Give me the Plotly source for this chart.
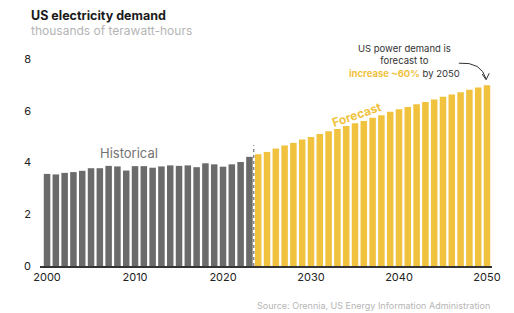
import plotly.graph_objects as go

hist_years = list(range(2000, 2024))
hist_values = [3.56, 3.54, 3.60, 3.63, 3.68, 3.78, 3.78, 3.87, 3.85, 3.69, 3.86, 3.86,
               3.80, 3.85, 3.89, 3.87, 3.89, 3.82, 3.97, 3.93, 3.84, 3.93, 4.02, 4.22]
fc_years = list(range(2024, 2051))
fc_values = [4.32, 4.41, 4.54, 4.66, 4.76, 4.89, 4.99, 5.10, 5.21, 5.30, 5.41, 5.52, 5.61,
             5.73, 5.83, 5.96, 6.06, 6.15, 6.25, 6.34, 6.44, 6.54, 6.63, 6.72, 6.81, 6.90, 6.99]
x_ticks = [2000, 2010, 2020, 2030, 2040, 2050]
y_ticks = [0, 2, 4, 6, 8]

GRAY = "#6b6b6b"
YELLOW = "#f0c23e"
FONT = "Inter"

fig = go.Figure()
fig.add_bar(x=hist_years, y=hist_values, marker_color=GRAY, width=0.74, marker_line_width=0)
fig.add_bar(x=fc_years, y=fc_values, marker_color=YELLOW, width=0.74, marker_line_width=0)

# divider line
fig.add_shape(type="line", x0=2023.5, x1=2023.5, y0=0, y1=4.67, xref="x", yref="y",
              line=dict(color="#555555", width=1, dash="dot"))

# curved arrow
fig.add_shape(type="path", xref="x", yref="y",
              path="M 2046.8,7.84 Q 2049.4,7.9 2049.9,7.22",
              line=dict(color="#333333", width=1))
fig.add_shape(type="path", xref="x", yref="y",
              path="M 2049.45,7.42 L 2049.9,7.2 L 2050.25,7.45",
              line=dict(color="#333333", width=1))

fig.add_annotation(x=2009.3, y=4.0, text="Historical", showarrow=False, xref="x", yref="y",
                   yanchor="bottom", font=dict(family=FONT, size=13, color="#737373"))
fig.add_annotation(x=2035.2, y=5.87, text="<b>Forecast</b>", showarrow=False, xref="x", yref="y",
                   textangle=-19, font=dict(family=FONT, size=12, color=YELLOW))
fig.add_annotation(x=2040.6, y=7.92,
                   text="US power demand is<br>forecast to<br><span style='color:#f0c23e'><b>increase ~60%</b></span> by 2050",
                   showarrow=False, xref="x", yref="y", align="center",
                   font=dict(family=FONT, size=9.5, color="#333333"))

# page is drawn with an 8px body margin, so margins compensate
fig.update_layout(
    width=514, height=313,
    margin=dict(l=32, r=30, t=42, b=55),
    paper_bgcolor="white", plot_bgcolor="white",
    showlegend=False, barmode="overlay",
    font=dict(family=FONT, color="#222222"),
    xaxis=dict(range=[1999.2, 2050.57], tickvals=x_ticks, showgrid=False, zeroline=False,
               showline=True, linecolor="#333333", linewidth=1.5, ticks="",
               tickfont=dict(size=11, color="#222222")),
    yaxis=dict(range=[0, 8.35], tickvals=y_ticks, showgrid=False, zeroline=False,
               showline=False, ticks="", tickfont=dict(size=11, color="#222222"),
               ticklabelstandoff=8),
)
fig.add_annotation(xref="paper", yref="paper", x=-0.025, y=1.0 + (50 - 15) / 216,
                   xanchor="left", yanchor="middle", showarrow=False,
                   text="<b>US electricity demand</b>",
                   font=dict(family=FONT, size=12.5, color="#1a1a1a"))
fig.add_annotation(xref="paper", yref="paper", x=-0.025, y=1.0 + (50 - 30) / 216,
                   xanchor="left", yanchor="middle", showarrow=False,
                   text="thousands of terawatt-hours",
                   font=dict(family=FONT, size=12, color="#b5b5b5"))
fig.add_annotation(xref="paper", yref="paper", x=1.0, y=-(305 - 266) / 216,
                   xanchor="right", yanchor="middle", showarrow=False,
                   text="Source: Orennia, US Energy Information Administration",
                   font=dict(family=FONT, size=9, color="#b5b5b5"))

fig.write_html("out.html")
